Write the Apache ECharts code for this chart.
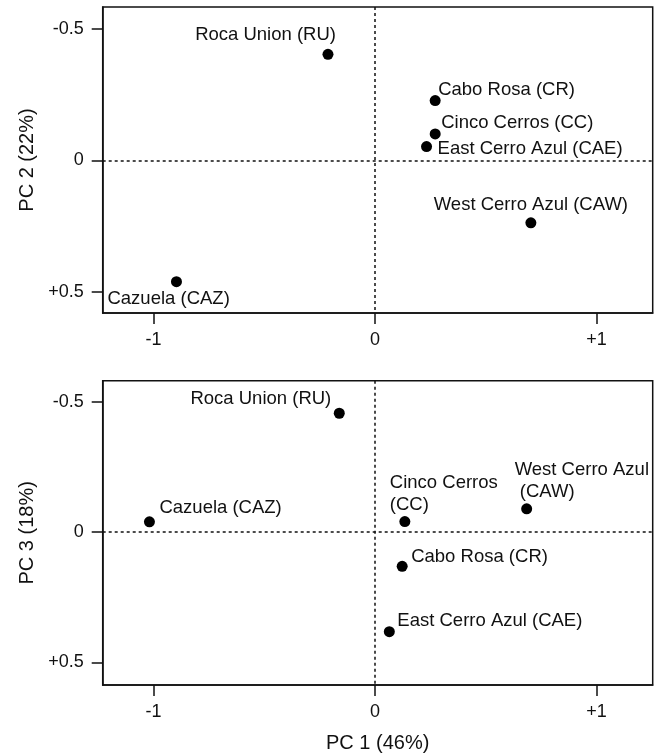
<!DOCTYPE html>
<html>
<head>
    <meta charset="utf-8">
    <title>PCA sites</title>
    <script src="https://cdn.jsdelivr.net/npm/echarts@6/dist/echarts.min.js"></script>
</head>
<body style="margin:0">
<div id="main" style="width: 661px;height:754px;"></div>
<script type="text/javascript">
    // site names as printed in each panel
    var namesTop = ['Roca Union (RU)', 'Cabo Rosa (CR)', 'Cinco Cerros (CC)',
        'East Cerro Azul (CAE)', 'West Cerro Azul (CAW)', 'Cazuela (CAZ)'];
    var namesBottom = ['Roca Union (RU)', 'Cabo Rosa (CR)', 'Cinco Cerros\n(CC)',
        'East Cerro Azul (CAE)', 'West Cerro Azul\n (CAW)', 'Cazuela (CAZ)'];

    // scores
    var pc1Top = [-0.212, 0.272, 0.272, 0.233, 0.704, -0.896];
    var pc2 = [-0.404, -0.228, -0.101, -0.053, 0.237, 0.461];
    var pc1Bottom = [-0.161, 0.123, 0.135, 0.065, 0.685, -1.018];
    var pc3 = [-0.457, 0.131, -0.041, 0.382, -0.090, -0.040];

    var xTicks = [-1, 0, 1];
    var yTicks = [-0.5, 0, 0.5];

    // label placement: [dx, dy, align] from the dot centre
    var placeTop = [[8, -19, 'right'], [3, -11, 'left'], [6, -11, 'left'],
        [11, 2, 'left'], [0, -18, 'center'], [-69, 17, 'left']];
    var placeBottom = [[-8, -14, 'right'], [9, -9, 'left'], [-15, -28, 'left'],
        [8, -11, 'left'], [-12, -28, 'left'], [10, -14, 'left']];

    var font = 'Liberation Sans, Arial, sans-serif';
    var ink = '#111';
    var dot = 11;

    function signed(v) {
        return v > 0 ? '+' + v : String(v);
    }

    function points(xs, ys, names, place) {
        return xs.map(function (x, i) {
            var p = place[i];
            return {
                value: [x, ys[i]],
                label: {
                    show: true,
                    formatter: names[i],
                    position: [dot / 2 + p[0], dot / 2 + p[1]],
                    align: p[2],
                    verticalAlign: 'middle'
                }
            };
        });
    }

    function xAxis(idx, name) {
        return {
            type: 'value', gridIndex: idx, min: -1.229, max: 1.254,
            name: name, nameLocation: 'middle', nameGap: 48,
            nameTextStyle: {fontFamily: font, fontSize: 20, color: ink},
            axisLine: {onZero: false, lineStyle: {color: ink, width: 1.5}},
            axisTick: {customValues: xTicks, length: 11, lineStyle: {color: ink, width: 1.5}},
            axisLabel: {customValues: xTicks, formatter: signed, margin: 18,
                fontFamily: font, fontSize: 18, color: ink},
            splitLine: {show: false}
        };
    }

    function yAxis(idx, name, min, max) {
        return {
            type: 'value', gridIndex: idx, min: min, max: max, inverse: true,
            name: name, nameLocation: 'middle', nameGap: 63,
            nameTextStyle: {fontFamily: font, fontSize: 20, color: ink},
            axisLine: {onZero: false, lineStyle: {color: ink, width: 1.5}},
            axisTick: {customValues: yTicks, length: 11, lineStyle: {color: ink, width: 1.5}},
            axisLabel: {customValues: yTicks, formatter: signed, margin: 19,
                fontFamily: font, fontSize: 18, color: ink},
            splitLine: {show: false}
        };
    }

    function series(idx, data) {
        return {
            type: 'scatter', xAxisIndex: idx, yAxisIndex: idx,
            symbolSize: dot,
            itemStyle: {color: '#000', opacity: 1},
            label: {fontFamily: font, fontSize: 18.5, color: ink, lineHeight: 22},
            emphasis: {disabled: true},
            data: data,
            markLine: {
                silent: true, symbol: ['none', 'none'], label: {show: false},
                lineStyle: {type: [3, 3], color: ink, width: 1.5, opacity: 1},
                data: [{xAxis: 0}, {yAxis: 0}]
            }
        };
    }

    var myChart = echarts.init(document.getElementById('main'));

    option = {
        animation: false,
        backgroundColor: '#fff',
        grid: [
            {left: 102.7, right: 8.3, top: 7, height: 306, show: true, borderColor: ink, borderWidth: 1.5},
            {left: 102.7, right: 8.3, top: 380.7, height: 305, show: true, borderColor: ink, borderWidth: 1.5}
        ],
        xAxis: [xAxis(0, ''), xAxis(1, 'PC 1 (46%)')],
        yAxis: [yAxis(0, 'PC 2 (22%)', -0.584, 0.58), yAxis(1, 'PC 3 (18%)', -0.582, 0.587)],
        series: [
            series(0, points(pc1Top, pc2, namesTop, placeTop)),
            series(1, points(pc1Bottom, pc3, namesBottom, placeBottom))
        ]
    };

    myChart.setOption(option);
</script>
</body>
</html>
